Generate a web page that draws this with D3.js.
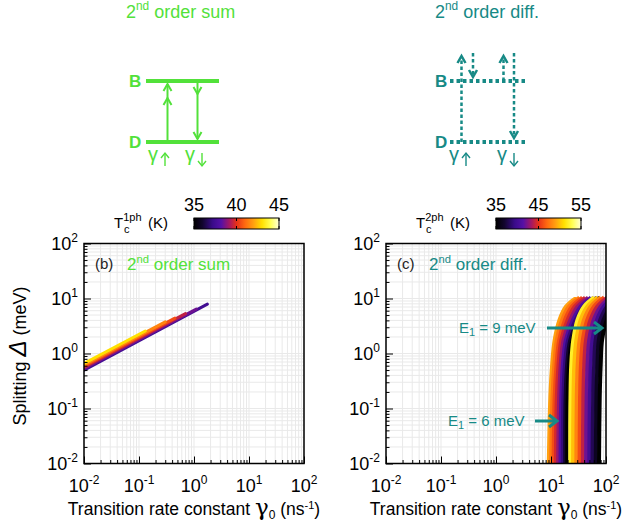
<!DOCTYPE html>
<html><head><meta charset="utf-8">
<script src="https://cdn.jsdelivr.net/npm/d3@7"></script>
<style>
body{margin:0;background:#fff}
svg{display:block}
text{font-family:"Liberation Sans",Arial,sans-serif}
</style>
</head><body><svg id="chart" width="629" height="527"></svg>
<script>
// ---------------- data ----------------
const tickExps = [-2, -1, 0, 1, 2];
const minorMult = [2, 3, 4, 5, 6, 7, 8, 9];

// panel (b): 2nd order sum — one straight band segment per Tc (log-log)
const sumTemps      = [37.5, 38.5, 39.5, 40.5, 41.5, 43];
const sumGammaStart = [0.01, 0.01, 0.01, 0.01, 0.01, 0.01];
const sumDeltaStart = [0.50, 0.53, 0.56, 0.59, 0.62, 0.66];
const sumGammaEnd   = [1.75, 1.10, 0.70, 0.45, 0.30, 0.13];
const sumDeltaEnd   = [7.9, 6.4, 5.3, 4.4, 3.76, 2.57];

// panel (c): 2nd order diff — gamma0 at each splitting level, per Tc
const diffDeltaLevels = [0.01, 0.16, 0.66, 1.75, 4.1, 7.2, 10.5];
const diff6Temps = [49, 47.5, 46, 44.5, 43, 41, 39, 37, 35];
const diff6Gamma = [
  [9.0, 9.6, 10.4, 11.5, 14.1, 18.6, 29.0],
  [9.9, 10.5, 11.4, 12.6, 15.8, 21.0, 32.7],
  [11.0, 11.5, 12.5, 13.9, 17.7, 23.8, 36.9],
  [12.1, 12.6, 13.6, 15.2, 19.8, 26.8, 41.6],
  [13.3, 13.9, 14.9, 16.7, 22.2, 30.3, 47.0],
  [14.7, 15.2, 16.3, 18.4, 24.9, 34.3, 53.0],
  [16.2, 16.6, 17.8, 20.2, 27.8, 38.7, 59.8],
  [17.9, 18.2, 19.5, 22.1, 31.2, 43.8, 67.4],
  [19.5, 19.8, 21.1, 24.1, 34.7, 49.3, 76.0]
];
const diff9Temps = [52, 50, 48, 46, 44, 42, 40, 38, 36.5, 35];
const diff9Gamma = [
  [22.4, 22.6, 23.4, 25.4, 30.3, 40.0, 61],
  [25.2, 25.6, 26.6, 28.9, 34.6, 46.0, 70.1],
  [28.9, 29.4, 30.6, 33.1, 39.7, 52.8, 80.5],
  [33.1, 33.7, 35.1, 37.9, 45.6, 60.7, 92.5],
  [37.9, 38.7, 40.3, 43.3, 52.3, 69.7, 106],
  [43.4, 44.4, 46.3, 49.5, 60.0, 80.1, 122],
  [49.7, 50.9, 53.1, 56.7, 68.8, 92.0, 140],
  [56.9, 58.4, 61.0, 64.8, 78.9, 106, 161],
  [65.1, 67.0, 70.0, 74.1, 90.5, 122, 185],
  [74.6, 76.9, 80.3, 84.8, 104, 140, 213]
];

// colour bars
const cb1Ticks = [35, 40, 45];
const cb2Ticks = [35, 45, 55];

// palette
const palStops  = [0, 0.1, 0.22, 0.32, 0.42, 0.5, 0.6, 0.7, 0.8, 0.9, 1];
const palColors = ["#000000", "#12052e", "#3a0b8a", "#5510a6", "#a81860", "#e63019",
                   "#ff6a10", "#ffa010", "#ffe000", "#ffff55", "#ffffd8"];

// ---------------- drawing ----------------
const GREEN = "#52e13a", TEAL = "#178a86";
const svg = d3.select("#chart");
svg.append("rect").attr("width", 629).attr("height", 527).attr("fill", "#fff");
const pal = d3.scaleLinear().domain(palStops).range(palColors).interpolate(d3.interpolateRgb);

function sup(sel, base, s, size, dy) {
  sel.append("tspan").text(base);
  sel.append("tspan").attr("font-size", size).attr("dy", -dy).text(s);
}

// ---- top schematic titles ----
function title2nd(x, y, rest, color, fs) {
  const t = svg.append("text").attr("x", x).attr("y", y).attr("fill", color).attr("font-size", fs);
  t.append("tspan").text("2");
  t.append("tspan").attr("font-size", fs * 0.66).attr("dy", -fs * 0.42).text("nd");
  t.append("tspan").attr("dy", fs * 0.42).text(" " + rest);
}
title2nd(126, 18, "order sum", GREEN, 18);
title2nd(435, 18, "order diff.", TEAL, 18);

function chevron(g, x, y, dir, color, w, len, half) {
  g.append("path").attr("d", `M${x - half},${y - dir * len}L${x},${y}L${x + half},${y - dir * len}`)
    .attr("fill", "none").attr("stroke", color).attr("stroke-width", w).attr("stroke-linejoin", "miter");
}
// ---- sum schematic ----
const gs = svg.append("g");
gs.append("line").attr("x1", 146).attr("x2", 219).attr("y1", 81).attr("y2", 81).attr("stroke", GREEN).attr("stroke-width", 4);
gs.append("line").attr("x1", 146).attr("x2", 219).attr("y1", 142).attr("y2", 142).attr("stroke", GREEN).attr("stroke-width", 4);
gs.append("line").attr("x1", 167.5).attr("x2", 167.5).attr("y1", 142).attr("y2", 84).attr("stroke", GREEN).attr("stroke-width", 2);
chevron(gs, 167.5, 84, -1, GREEN, 2, 7, 4);
chevron(gs, 167.5, 98, -1, GREEN, 2, 7, 4);
gs.append("line").attr("x1", 197.5).attr("x2", 197.5).attr("y1", 81).attr("y2", 139).attr("stroke", GREEN).attr("stroke-width", 2);
chevron(gs, 197.5, 94, 1, GREEN, 2, 7, 4);
chevron(gs, 197.5, 139, 1, GREEN, 2, 7, 4);
gs.append("text").attr("x", 129).attr("y", 87).attr("font-weight", "bold").attr("font-size", 17).attr("fill", GREEN).text("B");
gs.append("text").attr("x", 129).attr("y", 148).attr("font-weight", "bold").attr("font-size", 17).attr("fill", GREEN).text("D");

// gamma with arrow subscript (arrow drawn as a small glyph path)
function gammaLabel(x, y, dir, color) {
  svg.append("text").attr("x", x).attr("y", y).attr("fill", color)
    .attr("font-family", "'DejaVu Serif',serif").attr("font-size", 20).text("γ");
  const ax = x + 17, yTop = y - 8, yBot = y + 5;
  const g = svg.append("g");
  g.append("line").attr("x1", ax).attr("x2", ax).attr("y1", yTop).attr("y2", yBot).attr("stroke", color).attr("stroke-width", 1.4);
  const tip = dir < 0 ? yTop : yBot;
  g.append("path").attr("d", `M${ax - 4},${tip - dir * 5}L${ax},${tip}L${ax + 4},${tip - dir * 5}`)
    .attr("fill", "none").attr("stroke", color).attr("stroke-width", 1.4);
}
gammaLabel(148, 161, -1, GREEN);
gammaLabel(185, 161, 1, GREEN);

// ---- diff schematic ----
const gd = svg.append("g");
function dotted(x1, y1, x2, y2, w, dash) {
  gd.append("line").attr("x1", x1).attr("x2", x2).attr("y1", y1).attr("y2", y2)
    .attr("stroke", TEAL).attr("stroke-width", w).attr("stroke-dasharray", dash);
}
dotted(450, 81, 526, 81, 4, "3.5,3");
dotted(450, 142, 526, 142, 4, "3.5,3");
dotted(461.5, 142, 461.5, 57, 2.5, "3.5,2.5");
chevron(gd, 461.5, 56, -1, TEAL, 2.5, 7, 4);
dotted(473, 53, 473, 76, 2.5, "3.5,2.5");
chevron(gd, 473, 77, 1, TEAL, 2.5, 7, 4);
dotted(503.5, 81, 503.5, 57, 2.5, "3.5,2.5");
chevron(gd, 503.5, 56, -1, TEAL, 2.5, 7, 4);
dotted(514, 53, 514, 137, 2.5, "3.5,2.5");
chevron(gd, 514, 138, 1, TEAL, 2.5, 7, 4);
gd.append("text").attr("x", 435).attr("y", 87).attr("font-weight", "bold").attr("font-size", 17).attr("fill", TEAL).text("B");
gd.append("text").attr("x", 435).attr("y", 148).attr("font-weight", "bold").attr("font-size", 17).attr("fill", TEAL).text("D");
gammaLabel(449, 161, -1, TEAL);
gammaLabel(497, 161, 1, TEAL);

// ---- colour bars ----
function colorbar(x0, x1, tmin, tmax, ticks, labelX, supTxt, id) {
  const s = d3.scaleLinear().domain([tmin, tmax]).range([x0, x1]);
  const grad = svg.append("defs").append("linearGradient").attr("id", id);
  palStops.forEach((p, i) => grad.append("stop").attr("offset", p).attr("stop-color", palColors[i]));
  svg.append("rect").attr("x", x0).attr("y", 218).attr("width", x1 - x0).attr("height", 11)
    .attr("fill", `url(#${id})`).attr("stroke", "#000").attr("stroke-width", 1);
  ticks.forEach(t => {
    svg.append("line").attr("x1", s(t)).attr("x2", s(t)).attr("y1", 218).attr("y2", 221).attr("stroke", "#000");
    svg.append("line").attr("x1", s(t)).attr("x2", s(t)).attr("y1", 229).attr("y2", 226).attr("stroke", "#000");
    svg.append("text").attr("x", s(t)).attr("y", 211).attr("text-anchor", "middle").attr("font-size", 18).text(t);
  });
  const lt = svg.append("text").attr("x", labelX).attr("y", 228).attr("font-size", 15);
  lt.append("tspan").text("T");
  lt.append("tspan").attr("font-size", 11).attr("dy", -7).text(supTxt);
  svg.append("text").attr("x", labelX + 10).attr("y", 233).attr("font-size", 11).text("c");
  svg.append("text").attr("x", labelX + 34).attr("y", 228).attr("font-size", 15).text("(K)");
}
colorbar(194, 279, 35, 45, cb1Ticks, 114, "1ph", "g1");
colorbar(496, 581, 35, 55, cb2Ticks, 416, "2ph", "g2");

// ---- panels ----
function panel(left, right, top, bottom, clipId) {
  const x = d3.scaleLog().domain([1e-2, 1e2]).range([left, right]);
  const y = d3.scaleLog().domain([1e-2, 1e2]).range([bottom, top]);
  const g = svg.append("g");
  const majors = tickExps.map(e => Math.pow(10, e));
  const minors = [];
  tickExps.slice(0, -1).forEach(e => minorMult.forEach(m => minors.push(m * Math.pow(10, e))));
  const all = majors.concat(minors);
  g.append("g").selectAll("line").data(all).join("line")
    .attr("x1", d => x(d)).attr("x2", d => x(d)).attr("y1", top).attr("y2", bottom)
    .attr("stroke", "#e9e9e9").attr("stroke-width", 1);
  g.append("g").selectAll("line").data(all).join("line")
    .attr("y1", d => y(d)).attr("y2", d => y(d)).attr("x1", left).attr("x2", right)
    .attr("stroke", "#e9e9e9").attr("stroke-width", 1);
  svg.append("defs").append("clipPath").attr("id", clipId)
    .append("rect").attr("x", left).attr("y", top).attr("width", right - left).attr("height", bottom - top);
  const data = svg.append("g").attr("clip-path", `url(#${clipId})`);
  return {x, y, g, data, majors, minors, left, right, top, bottom};
}
function frame(P) {
  const {x, y, left, right, top, bottom, majors, minors} = P;
  const g = svg.append("g");
  g.append("g").attr("transform", `translate(0,${bottom})`)
    .call(d3.axisBottom(x).tickValues(minors).tickSize(-3.5).tickFormat("")).call(a => a.select(".domain").remove());
  g.append("g").attr("transform", `translate(0,${bottom})`)
    .call(d3.axisBottom(x).tickValues(majors).tickSize(-7).tickFormat("")).call(a => a.select(".domain").remove());
  g.append("g").attr("transform", `translate(${left},0)`)
    .call(d3.axisLeft(y).tickValues(minors).tickSize(-3.5).tickFormat("")).call(a => a.select(".domain").remove());
  g.append("g").attr("transform", `translate(${left},0)`)
    .call(d3.axisLeft(y).tickValues(majors).tickSize(-7).tickFormat("")).call(a => a.select(".domain").remove());
  g.selectAll(".tick line").attr("stroke", "#000").attr("stroke-width", 1);
  g.append("rect").attr("x", left).attr("y", top).attr("width", right - left).attr("height", bottom - top)
    .attr("fill", "none").attr("stroke", "#000").attr("stroke-width", 1.5);
  tickExps.forEach(e => {
    const v = Math.pow(10, e);
    const tx = g.append("text").attr("x", x(v)).attr("y", bottom + 28).attr("text-anchor", "middle").attr("font-size", 18);
    sup(tx, "10", e, 12, 8);
    const ty = g.append("text").attr("x", left - 6).attr("y", y(v) + 6).attr("text-anchor", "end").attr("font-size", 18);
    sup(ty, "10", e, 12, 8);
  });
  const cx = (left + right) / 2;
  const xt = g.append("text").attr("x", cx).attr("y", bottom + 51).attr("text-anchor", "middle").attr("font-size", 17.5);
  xt.append("tspan").text("Transition rate constant ");
  xt.append("tspan").attr("font-family", "'DejaVu Serif',serif").attr("font-size", 23).text("γ");
  xt.append("tspan").attr("font-size", 12).attr("dy", 4).text("0");
  xt.append("tspan").attr("dy", -4).text(" (ns");
  xt.append("tspan").attr("font-size", 11).attr("dy", -6).text("-1");
  xt.append("tspan").attr("dy", 6).text(")");
}

// panel b
const PB = panel(84, 304, 243.5, 463.5, "clipb");
const sumColor = d3.scaleLinear().domain([35, 45]).range([0, 1]);
sumTemps.forEach((T, i) => {
  PB.data.append("line")
    .attr("x1", PB.x(sumGammaStart[i])).attr("y1", PB.y(sumDeltaStart[i]))
    .attr("x2", PB.x(sumGammaEnd[i])).attr("y2", PB.y(sumDeltaEnd[i]))
    .attr("stroke", pal(sumColor(T))).attr("stroke-width", 3).attr("stroke-linecap", "round");
});
frame(PB);

// panel c
const PC = panel(386, 606, 243.5, 463.5, "clipc");
const diffColor = d3.scaleLinear().domain([35, 55]).range([0, 1]);
const lineGen = d3.line().curve(d3.curveCatmullRom.alpha(0.5));
function family(temps, gam, w) {
  temps.forEach((T, i) => {
    const pts = diffDeltaLevels.map((d, j) => [PC.x(gam[i][j]), PC.y(d)]);
    PC.data.append("path").attr("d", lineGen(pts)).attr("fill", "none")
      .attr("stroke", pal(diffColor(T))).attr("stroke-width", w);
  });
}
family(diff6Temps, diff6Gamma, 3.4);
family(diff9Temps, diff9Gamma, 4.0);
frame(PC);

// panel labels
svg.append("text").attr("x", 95).attr("y", 269).attr("font-size", 15).attr("fill", "#222").text("(b)");
title2nd(127, 270, "order sum", GREEN, 17);
svg.append("text").attr("x", 397).attr("y", 269).attr("font-size", 15).attr("fill", "#222").text("(c)");
title2nd(429, 270, "order diff.", TEAL, 17);

// E1 annotations
function e1(x, y, val, ax1, ax2) {
  const t = svg.append("text").attr("x", x).attr("y", y + 5).attr("font-size", 15).attr("fill", TEAL);
  t.append("tspan").text("E");
  t.append("tspan").attr("font-size", 11).attr("dy", 3).text("1");
  t.append("tspan").attr("dy", -3).text(" = " + val + " meV");
  svg.append("line").attr("x1", ax1).attr("x2", ax2 - 2).attr("y1", y).attr("y2", y).attr("stroke", TEAL).attr("stroke-width", 3);
  svg.append("path").attr("d", `M${ax2 - 8},${y - 6}L${ax2},${y}L${ax2 - 8},${y + 6}`)
    .attr("fill", "none").attr("stroke", TEAL).attr("stroke-width", 3);
}
e1(459, 328, 9, 547, 602);
e1(448, 421, 6, 535, 557);

// y title
svg.append("text").attr("transform", "translate(26,356) rotate(-90)").attr("text-anchor", "middle").attr("font-size", 18)
  .call(t => {
    t.append("tspan").text("Splitting ");
    t.append("tspan").attr("font-style", "italic").attr("font-size", 24).text("Δ");
    t.append("tspan").text(" (meV)");
  });
</script></body></html>
